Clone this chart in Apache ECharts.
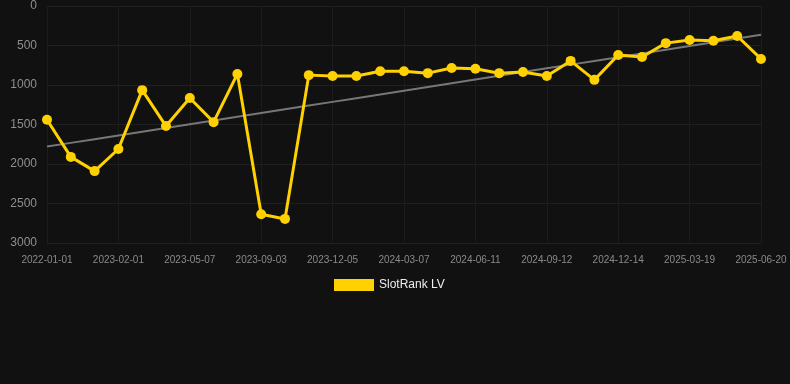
<!DOCTYPE html>
<html><head><meta charset="utf-8">
<script src="https://cdn.jsdelivr.net/npm/echarts@6/dist/echarts.min.js"></script>
<style>html,body{margin:0;padding:0;background:#111;}#c{width:790px;height:384px;}</style>
</head><body><div id="c"></div>
<script>
const categories = ['2022-01-01','2022-05-12','2022-09-20','2023-02-01','2023-03-05','2023-04-05','2023-05-07','2023-06-15','2023-07-25','2023-09-03','2023-10-05','2023-11-04','2023-12-05','2024-01-05','2024-02-05','2024-03-07','2024-04-08','2024-05-10','2024-06-11','2024-07-13','2024-08-12','2024-09-12','2024-10-13','2024-11-13','2024-12-14','2025-01-15','2025-02-16','2025-03-19','2025-04-20','2025-05-20','2025-06-20'];
const rankValues = [1440,1910,2090,1810,1065,1520,1165,1470,860,2635,2695,875,885,885,825,825,850,785,795,850,835,885,695,935,620,645,470,430,440,380,670];
const seriesName = 'SlotRank LV';

// least-squares trend line from the data
const n = rankValues.length;
let sx=0, sy=0, sxy=0, sxx=0;
rankValues.forEach((v,i)=>{sx+=i;sy+=v;sxy+=i*v;sxx+=i*i;});
const slope = (n*sxy - sx*sy)/(n*sxx - sx*sx);
const intercept = (sy - slope*sx)/n;
const trend = rankValues.map((v,i)=>intercept + slope*i);

const chart = echarts.init(document.getElementById('c'));
chart.setOption({
  backgroundColor:'#111111',
  animation:false,
  grid:{left:47,right:29,top:6,bottom:141,containLabel:false},
  legend:{data:[seriesName],top:274,left:329,itemWidth:40,itemHeight:12,icon:'rect',itemGap:10,
    textStyle:{color:'#eeeeee',fontSize:12,fontFamily:'Liberation Sans, Arial, sans-serif'}},
  xAxis:{type:'category',data:categories,boundaryGap:false,
    axisLine:{show:false},axisTick:{show:false},
    axisLabel:{interval:2,color:'#8a8a8a',fontSize:10,margin:12,fontFamily:'Liberation Sans, Arial, sans-serif'},
    splitLine:{show:true,interval:2,lineStyle:{color:'#1c1c1c',width:1}}},
  yAxis:{type:'value',inverse:true,min:0,max:3000,interval:500,
    axisLine:{show:false},axisTick:{show:false},
    axisLabel:{color:'#8f8f8f',fontSize:12,margin:10,formatter:v=>String(v),fontFamily:'Liberation Sans, Arial, sans-serif'},
    splitLine:{lineStyle:{color:'#202020',width:1}}},
  series:[
    {name:'trend',type:'line',data:trend,symbol:'none',silent:true,
      lineStyle:{color:'#777777',width:2},z:1},
    {name:seriesName,type:'line',data:rankValues,symbol:'circle',symbolSize:10,
      itemStyle:{color:'#FFD100'},lineStyle:{color:'#FFD100',width:3},z:3}
  ]
});
</script></body></html>
